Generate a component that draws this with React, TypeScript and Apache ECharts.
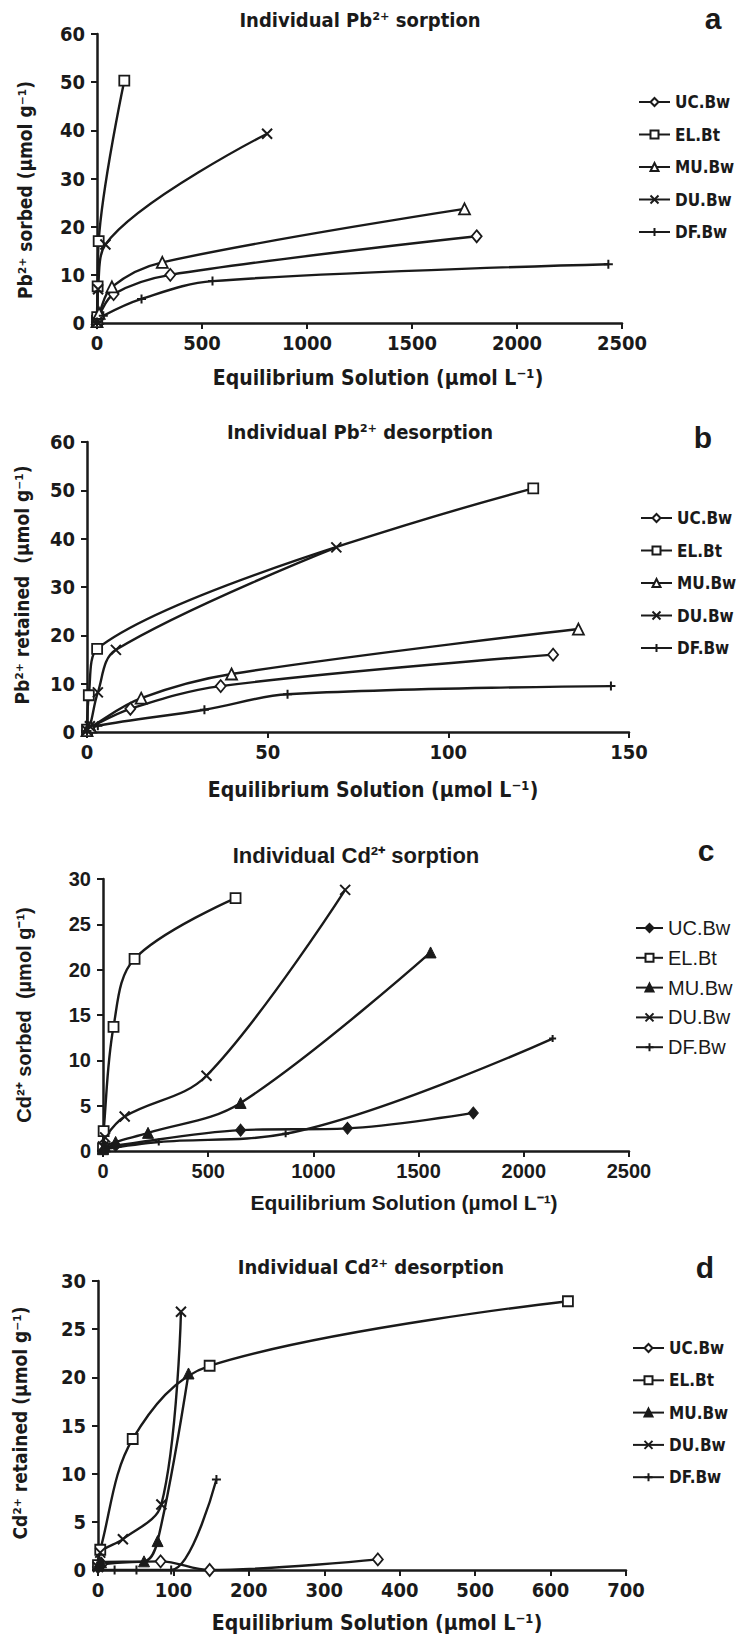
import React, { useEffect, useRef } from 'react';
import * as echarts from 'echarts';

const seriesNames = ['UC.Bw', 'EL.Bt', 'MU.Bw', 'DU.Bw', 'DF.Bw'];

// Panel a: Individual Pb2+ sorption
const aUC = [[0, 0.2], [2, 0.8], [8, 1.5], [79, 6.0], [349, 10.0], [1808, 18.0]];
const aEL = [[0, 0.5], [1, 1.2], [3, 7.6], [8, 17.0], [130, 50.3]];
const aMU = [[0, 0.3], [2, 0.9], [10, 2.0], [71, 7.5], [311, 12.6], [1750, 23.7]];
const aDU = [[0, 0.2], [5, 7.0], [40, 16.3], [810, 39.3]];
const aDF = [[0, 0.2], [30, 1.5], [212, 5.0], [550, 8.7], [2435, 12.2]];

// Panel b: Individual Pb2+ desorption
const bUC = [[0, 0.3], [0.5, 0.8], [12, 4.8], [37, 9.5], [129, 16.0]];
const bEL = [[0, 0.5], [0.5, 7.6], [2.8, 17.2], [123.5, 50.4]];
const bMU = [[0, 0.3], [1, 1.0], [15, 7.0], [40, 12.0], [136, 21.3]];
const bDU = [[0, 0.3], [0.8, 1.2], [3, 8.2], [8, 17.0], [69, 38.2]];
const bDF = [[0, 0.2], [3, 1.3], [32.5, 4.6], [55.5, 7.8], [145, 9.5]];

// Panel c: Individual Cd2+ sorption
const cUC = [[0, 0.2], [10, 0.4], [60, 0.6], [654, 2.3], [1162, 2.5], [1760, 4.2]];
const cEL = [[0, 0.3], [3, 2.2], [50, 13.7], [150, 21.2], [630, 27.9]];
const cMU = [[0, 0.2], [10, 0.5], [60, 1.0], [214, 2.0], [654, 5.3], [1557, 21.9]];
const cDU = [[0, 0.5], [10, 1.5], [103, 3.8], [492, 8.3], [1151, 28.8]];
const cDF = [[0, 0.2], [265, 1.0], [868, 1.9], [2137, 12.4]];

// Panel d: Individual Cd2+ desorption
const dUC = [[0, 0.3], [5, 0.6], [83, 0.9], [148, 0.0], [371, 1.1]];
const dEL = [[0, 0.5], [3, 2.1], [46, 13.6], [148, 21.2], [623, 27.9]];
const dMU = [[0, 0.5], [4, 0.8], [61, 0.9], [79, 3.0], [120, 20.4]];
const dDU = [[0, 0.3], [3, 1.8], [33, 3.2], [84, 6.8], [110, 26.8]];
const dDF = [[0, 0.0], [22, 0.0], [51, 0.0], [97, 0.0], [157, 9.4]];

const xMax = [2500, 150, 2500, 700];
const xStep = [500, 50, 500, 100];
const yMax = [60, 60, 30, 30];
const yStep = [10, 10, 5, 5];

const titles = [
  'Individual Pb²⁺ sorption',
  'Individual Pb²⁺ desorption',
  'Individual Cd²⁺ sorption',
  'Individual Cd²⁺ desorption',
];
const yNames = [
  'Pb²⁺ sorbed (µmol g⁻¹)',
  'Pb²⁺ retained  (µmol g⁻¹)',
  'Cd²⁺ sorbed  (µmol g⁻¹)',
  'Cd²⁺ retained (µmol g⁻¹)',
];
const xName = 'Equilibrium Solution (µmol L⁻¹)';
const letters = ['a', 'b', 'c', 'd'];

const panelData = [
  [aUC, aEL, aMU, aDU, aDF],
  [bUC, bEL, bMU, bDU, bDF],
  [cUC, cEL, cMU, cDU, cDF],
  [dUC, dEL, dMU, dDU, dDF],
];

const INK = '#1a1a1a';
const NARROW = "'Liberation Sans Narrow','DejaVu Sans Condensed','Liberation Sans',sans-serif";
const SANS = "'Liberation Sans',Arial,sans-serif";

const layout = [
  { left: 97, top: 34, width: 525, height: 289, title: [360, 20], letter: [713, 18], xn: [378, 378], yn: [25, 190], leg: [638, 102, 32.5, 31] },
  { left: 87, top: 442, width: 542, height: 290, title: [360, 432], letter: [703, 437], xn: [373, 790], yn: [22, 585], leg: [640, 518, 32.5, 31] },
  { left: 103, top: 879, width: 526, height: 272, title: [356, 855], letter: [706, 850], xn: [404, 1202], yn: [24, 1015], leg: [635, 928, 29.8, 27] },
  { left: 98, top: 1281, width: 528, height: 289, title: [371, 1267], letter: [705, 1267], xn: [377, 1623], yn: [20, 1423], leg: [632, 1348, 32.3, 31] },
];

const CROSS = 'path://M0,0L10,10M10,0L0,10';
const PLUS = 'path://M5,0L5,10M0,5L10,5';

function markerFor(panel: number, s: number) {
  const hollow = { color: '#fff', borderColor: INK, borderWidth: 1.8 };
  const filled = { color: INK, borderColor: INK, borderWidth: 1 };
  switch (s) {
    case 0:
      return { symbol: 'diamond', symbolSize: [10, 12], itemStyle: panel === 2 ? filled : hollow };
    case 1:
      return { symbol: 'rect', symbolSize: 10, itemStyle: hollow };
    case 2:
      return { symbol: 'triangle', symbolSize: 11, itemStyle: panel >= 2 ? filled : hollow };
    case 3:
      return { symbol: CROSS, symbolSize: 10, itemStyle: { color: 'none', borderColor: INK, borderWidth: 2 } };
    default:
      return { symbol: PLUS, symbolSize: panel === 2 ? 7 : 9, itemStyle: { color: 'none', borderColor: INK, borderWidth: 2 } };
  }
}

export default function App() {
  const ref = useRef<HTMLDivElement>(null);
  useEffect(() => {
    if (!ref.current) return;
    const chart = echarts.init(ref.current, undefined, { renderer: 'svg' });
    const grids: any[] = [];
    const xAxes: any[] = [];
    const yAxes: any[] = [];
    const series: any[] = [];
    const legends: any[] = [];
    const graphics: any[] = [];
    layout.forEach((L, i) => {
      const isC = i === 2;
      const font = isC ? SANS : NARROW;
      grids.push({ left: L.left, top: L.top, width: L.width, height: L.height, containLabel: false });
      const label = {
        fontFamily: font,
        fontSize: 20,
        fontWeight: 'bold',
        color: INK,
        formatter: (v: number) => String(v),
      };
      const axisCommon = {
        gridIndex: i,
        type: 'value',
        min: 0,
        axisLine: { show: true, onZero: false, lineStyle: { color: INK, width: 2.5 } },
        axisTick: { show: true, length: 6, lineStyle: { color: INK, width: 2 } },
        splitLine: { show: false },
      };
      xAxes.push({ ...axisCommon, max: xMax[i], interval: xStep[i], axisLabel: { ...label, margin: 10 } });
      yAxes.push({ ...axisCommon, max: yMax[i], interval: yStep[i], axisLabel: { ...label, margin: 12 } });
      const names: string[] = [];
      panelData[i].forEach((data, s) => {
        const nm = `${letters[i]}:${seriesNames[s]}`;
        names.push(nm);
        series.push({
          type: 'line',
          name: nm,
          xAxisIndex: i,
          yAxisIndex: i,
          data,
          smooth: 0.35,
          lineStyle: { color: INK, width: 2.4 },
          ...markerFor(i, s),
        });
      });
      const lineH = 20;
      legends.push({
        orient: 'vertical',
        left: L.leg[0],
        top: L.leg[1] - lineH / 2,
        itemWidth: L.leg[3],
        itemHeight: 10,
        itemGap: L.leg[2] - lineH,
        padding: 0,
        selectedMode: false,
        data: names,
        formatter: (n: string) => n.split(':')[1],
        textStyle: {
          fontFamily: font,
          fontSize: isC ? 20 : 17,
          fontWeight: isC ? 'normal' : 'bold',
          color: INK,
          lineHeight: lineH,
        },
      });
      graphics.push({
        type: 'text',
        x: L.title[0],
        y: L.title[1],
        style: { text: titles[i], font: `bold ${isC ? 22 : 20}px ${font}`, fill: INK, textAlign: 'center', textVerticalAlign: 'middle' },
      });
      graphics.push({
        type: 'text',
        x: L.letter[0],
        y: L.letter[1],
        style: { text: letters[i], font: `bold 30px ${SANS}`, fill: INK, textAlign: 'center', textVerticalAlign: 'middle' },
      });
      graphics.push({
        type: 'text',
        x: L.xn[0],
        y: L.xn[1],
        style: { text: xName, font: `bold 21px ${font}`, fill: INK, textAlign: 'center', textVerticalAlign: 'middle' },
      });
      graphics.push({
        type: 'text',
        x: L.yn[0],
        y: L.yn[1],
        rotation: Math.PI / 2,
        style: { text: yNames[i], font: `bold ${isC ? 20 : 19}px ${font}`, fill: INK, textAlign: 'center', textVerticalAlign: 'middle' },
      });
    });
    chart.setOption({
      animation: false,
      backgroundColor: '#fff',
      grid: grids,
      xAxis: xAxes,
      yAxis: yAxes,
      legend: legends,
      series,
      graphic: graphics,
    });
    return () => chart.dispose();
  }, []);
  return <div ref={ref} style={{ position: 'absolute', left: 0, top: 0, width: 739, height: 1638 }} />;
}
